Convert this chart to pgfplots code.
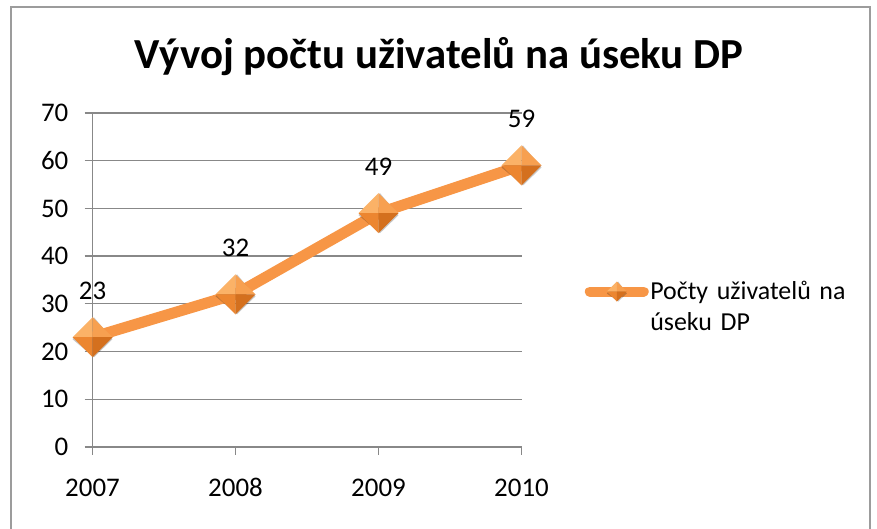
\documentclass[border=0pt]{standalone}
\usepackage{fontspec}
\setmainfont{Carlito}
\usepackage{pgfplots}
\pgfplotsset{compat=1.18}
\definecolor{lineor}{HTML}{F79646}
\definecolor{gridc}{HTML}{888888}
\definecolor{framec}{HTML}{9C9C9C}
\definecolor{fTL}{HTML}{FBB267}
\definecolor{fTR}{HTML}{F7A050}
\definecolor{fBL}{HTML}{EC8630}
\definecolor{fBR}{HTML}{D4701E}
\pgfdeclareplotmark{odiamond}{%
  \pgfsetfillopacity{0.22}\pgfsetfillcolor{black}%
  \pgfpathmoveto{\pgfqpoint{1.5pt}{\pgfplotmarksize}}%
  \pgfpathlineto{\pgfqpoint{\pgfplotmarksize+1.5pt}{-2pt}}%
  \pgfpathlineto{\pgfqpoint{1.5pt}{-\pgfplotmarksize-3pt}}%
  \pgfpathlineto{\pgfqpoint{-\pgfplotmarksize+1.5pt}{-2pt}}%
  \pgfpathclose\pgfusepath{fill}%
  \pgfsetfillopacity{1}%
  \pgfsetfillcolor{fTL}%
  \pgfpathmoveto{\pgfqpoint{0pt}{0pt}}%
  \pgfpathlineto{\pgfqpoint{0pt}{\pgfplotmarksize}}%
  \pgfpathlineto{\pgfqpoint{-\pgfplotmarksize}{0pt}}%
  \pgfpathclose\pgfusepath{fill}%
  \pgfsetfillcolor{fTR}%
  \pgfpathmoveto{\pgfqpoint{0pt}{0pt}}%
  \pgfpathlineto{\pgfqpoint{0pt}{\pgfplotmarksize}}%
  \pgfpathlineto{\pgfqpoint{\pgfplotmarksize}{0pt}}%
  \pgfpathclose\pgfusepath{fill}%
  \pgfsetfillcolor{fBL}%
  \pgfpathmoveto{\pgfqpoint{0pt}{0pt}}%
  \pgfpathlineto{\pgfqpoint{0pt}{-\pgfplotmarksize}}%
  \pgfpathlineto{\pgfqpoint{-\pgfplotmarksize}{0pt}}%
  \pgfpathclose\pgfusepath{fill}%
  \pgfsetfillcolor{fBR}%
  \pgfpathmoveto{\pgfqpoint{0pt}{0pt}}%
  \pgfpathlineto{\pgfqpoint{0pt}{-\pgfplotmarksize}}%
  \pgfpathlineto{\pgfqpoint{\pgfplotmarksize}{0pt}}%
  \pgfpathclose\pgfusepath{fill}%
}
\begin{document}
\begin{tikzpicture}[x=1bp,y=1bp]
\path[use as bounding box] (0,0) rectangle (877,529);
\draw[framec, line width=2bp] (11,0) -- (11,522) -- (870,522) -- (870,0);
\node[font=\bfseries\fontsize{43}{50}\selectfont, anchor=base] at (439,460) {Vývoj počtu uživatelů na úseku DP};
\begin{axis}[
  at={(92.5bp,82bp)}, anchor=south west,
  scale only axis, width=429bp, height=334bp,
  xmin=0, xmax=3, ymin=0, ymax=70,
  clip=false,
  axis x line*=bottom, axis y line*=left,
  axis line style={gridc, line width=1.3bp, -},
  xtick={0,1,2,3}, xticklabels={2007,2008,2009,2010},
  ytick={0,10,...,70},
  tick align=outside, major tick length=8bp,
  tick style={gridc, line width=1.3bp},
  ymajorgrids, grid style={gridc, line width=1.3bp},
  /pgf/number format/assume math mode=true,
  tick label style={font=\fontsize{27}{32}\selectfont, inner sep=0pt},
  yticklabel style={xshift=-16bp},
  xticklabel style={anchor=north, text height=18bp, text depth=0pt, yshift=-23bp},
  nodes near coords,
  every node near coord/.append style={font=\fontsize{27}{32}\selectfont, anchor=south, inner sep=0pt, yshift=32bp, black},
  legend style={draw=none, fill=none, at={(rel axis cs:1.147,0.4655)}, anchor=west,
    inner sep=0pt, font=\fontsize{26}{31}\selectfont,
    nodes={inner sep=1.5bp, text width=215bp, align=left}},
  legend cell align=left,
  legend image code/.code={%
    \draw[lineor, line width=10bp, line cap=round] (0bp,0bp) -- (54bp,0bp);
    \path[mark size=10bp] plot[mark=odiamond] coordinates {(27bp,0bp)};
  },
]
\addplot[lineor, line width=11bp, line join=round, mark=odiamond, mark size=20bp]
  coordinates {(0,23) (1,32) (2,49) (3,59)};
\addlegendentry{Počty uživatelů na\\úseku DP}
\end{axis}
\end{tikzpicture}
\end{document}
